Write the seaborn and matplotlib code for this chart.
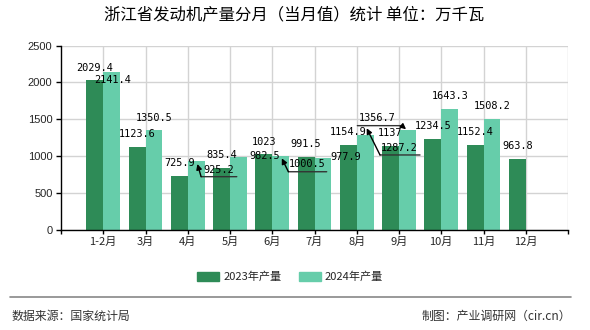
import numpy as np
import pandas as pd
import matplotlib
matplotlib.use("Agg")
import matplotlib.pyplot as plt
import seaborn as sns
from matplotlib import transforms
from matplotlib.lines import Line2D

# ---------------- data ----------------
months = ["1-2月", "3月", "4月", "5月", "6月", "7月", "8月", "9月", "10月", "11月", "12月"]
prod_2023 = [2029.4, 1123.6, 725.9, 835.4, 1023, 991.5, 1154.9, 1137, 1234.5, 1152.4, 963.8]
prod_2024 = [2141.4, 1350.5, 925.2, 982.5, 1000.5, 977.9, 1287.2, 1356.7, 1643.3, 1508.2, np.nan]
series_names = ["2023年产量", "2024年产量"]
y_ticks = [0, 500, 1000, 1500, 2000, 2500]
title = "浙江省发动机产量分月（当月值）统计 单位：万千瓦"
source_text = "数据来源：国家统计局"
credit_text = "制图：产业调研网（cir.cn）"

colors = ["#2E8B57", "#66CDAA"]

df = pd.DataFrame({
    "month": months * 2,
    "value": prod_2023 + prod_2024,
    "series": [series_names[0]] * len(months) + [series_names[1]] * len(months),
})

sns.set_theme(style="white")
plt.rcParams["font.family"] = ["Noto Sans CJK SC", "DejaVu Sans"]

W, H = 590, 330
fig = plt.figure(figsize=(W / 100, H / 100), dpi=100)
ax = fig.add_axes([61 / W, 1 - 229.5 / H, 507 / W, (229.5 - 45.7) / H])

sns.barplot(data=df, x="month", y="value", hue="series", order=months,
            hue_order=series_names, palette=colors, saturation=1, width=0.8,
            errorbar=None, ax=ax, zorder=2, linewidth=0, edgecolor="none")

ax.set_xlim(-1, len(months))
ax.set_ylim(0, 2500)
ax.set_yticks(y_ticks)
ax.set_xlabel("")
ax.set_ylabel("")
ax.set_axisbelow(True)
ax.grid(True, color="#d3d3d3", lw=1)
ax.axvline(len(months), color="#d3d3d3", lw=1, zorder=0)
for s in ["top", "right"]:
    ax.spines[s].set_visible(False)
for s in ["left", "bottom"]:
    ax.spines[s].set_color("black")
    ax.spines[s].set_linewidth(1)
ax.set_xticks([-1, len(months)], minor=True)
ax.tick_params(axis="x", which="both", length=3, width=1, color="black",
               bottom=True, labelsize=8, pad=2)
ax.tick_params(axis="y", length=3.6, width=1, color="black", left=True,
               labelsize=8, pad=2.5)
for lab in ax.get_yticklabels():
    lab.set_family(["Liberation Sans", "DejaVu Sans"])
if ax.legend_ is not None:
    ax.legend_.remove()

# ---------------- value labels ----------------
# offsets in pixels relative to bar top (x right, y up)
text_off = {
    (1, 0): (0.7, -7.9),
    (1, 2): (22.2, -8.5),
    (1, 3): (26.7, 1.3),
    (1, 4): (26.4, -8.1),
    (1, 5): (23.0, 0.3),
    (1, 6): (33.8, -13.4),
    (1, 7): (-30.7, 11.5),
}
# leader: underline (x0, x1, y), arrow start, arrow tip
leaders = {
    (1, 2): ((4.9, 40.6, -15.2), (4.9, -15.2), (1.2, -2.5)),
    (1, 4): ((7.7, 46.0, -15.8), (7.7, -15.8), (1.1, -2.4)),
    (1, 6): ((14.8, 54.8, -20.1), (14.8, -20.1), (1.5, 6.6)),
    (1, 7): ((-50.1, -5.7, 4.1), (-5.7, 4.1), (-1.4, 0.5)),
}
values = [prod_2023, prod_2024]


def off_tr(dx, dy):
    return transforms.offset_copy(ax.transData, fig=fig, x=dx, y=dy, units="dots")


for si, cont in enumerate(ax.containers):
    for bar in cont:
        h = bar.get_height()
        if h is None or np.isnan(h):
            continue
        bx = bar.get_x() + bar.get_width() / 2
        mi = int(round(bx))
        v = values[si][mi]
        txt = f"{v:g}"
        dx, dy = text_off.get((si, mi), (0, 12.7))
        ax.annotate(txt, xy=(bx, h), xytext=(dx, dy), textcoords="offset pixels",
                    ha="center", va="center", fontsize=7.4,
                    family="DejaVu Sans Mono", color="black", zorder=5)
        if (si, mi) in leaders:
            (ux0, ux1, uy), (sx, sy), (tx, ty) = leaders[(si, mi)]
            ax.annotate("", xy=(bx, h), xycoords=off_tr(ux1, uy),
                        xytext=(bx, h), textcoords=off_tr(ux0, uy),
                        arrowprops=dict(arrowstyle="-", color="#333333", lw=1,
                                        shrinkA=0, shrinkB=0), zorder=5)
            ax.annotate("", xy=(bx, h), xycoords=off_tr(tx, ty),
                        xytext=(bx, h), textcoords=off_tr(sx, sy),
                        arrowprops=dict(arrowstyle="-|>", color="black", lw=1,
                                        mutation_scale=8, shrinkA=0, shrinkB=0),
                        zorder=5)

# ---------------- title, legend, footer ----------------
fig.text(294 / W, 1 - 15 / H, title, ha="center", va="center", fontsize=11.8,
         color="black")

handles = [plt.Rectangle((0, 0), 1, 1, color=c) for c in colors]
fig.legend(handles, series_names, loc="center", bbox_to_anchor=(290 / W, 1 - 277 / H),
           ncol=2, frameon=False, fontsize=8, handlelength=2.0, handleheight=0.8,
           handletextpad=0.36, columnspacing=1.56, borderaxespad=0, borderpad=0)

fig.add_artist(Line2D([10 / W, 571 / W], [1 - 297.3 / H] * 2, color="#888888",
                      lw=1.2, transform=fig.transFigure))
fig.text(11.7 / W, 1 - 316 / H, source_text, ha="left", va="center",
         fontsize=8.6, color="#333333")
fig.text(571 / W, 1 - 316 / H, credit_text, ha="right", va="center",
         fontsize=8.6, color="#333333")

fig.savefig("out.png", dpi=100)
